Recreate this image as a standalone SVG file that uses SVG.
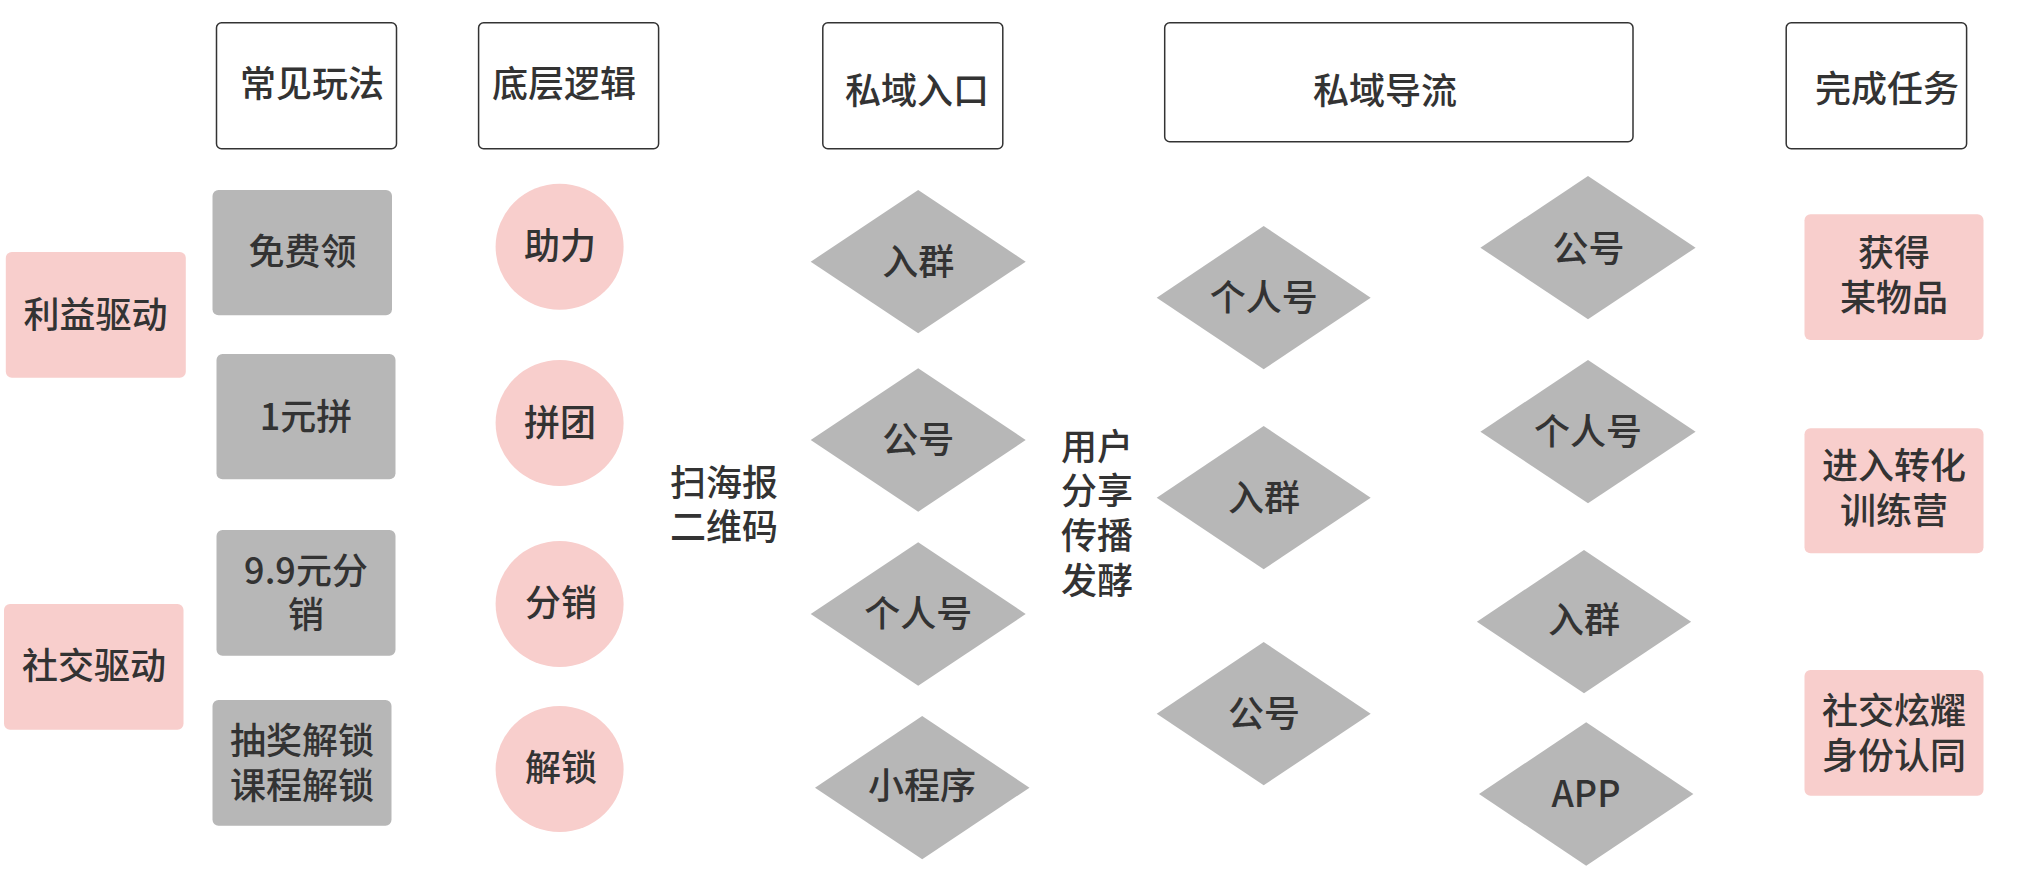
<svg xmlns="http://www.w3.org/2000/svg" width="2034" height="878" viewBox="0 0 2034 878">
<style>
text{font-family:"Noto Sans CJK SC","Noto Sans",sans-serif;font-size:36px;fill:#333333;text-anchor:middle;font-weight:500}
.hdr{fill:#ffffff;stroke:#333333;stroke-width:1.5}
.pink{fill:#f8cecc}
.gray{fill:#b7b7b7}
.free{text-anchor:start}
</style>
<rect width="2034" height="878" fill="#ffffff"/>
<g id="connectors"/>
<!-- headers -->
<g id="h-wanfa"><rect class="hdr" x="216.5" y="22.7" width="180" height="126" rx="5"/><text x="312" y="97">常见玩法</text></g>
<g id="h-luoji"><rect class="hdr" x="478.6" y="22.7" width="180" height="126" rx="5"/><text x="564" y="97">底层逻辑</text></g>
<g id="h-rukou"><rect class="hdr" x="822.8" y="22.7" width="180" height="126" rx="5"/><text x="917" y="104">私域入口</text></g>
<g id="h-daoliu"><rect class="hdr" x="1164.7" y="22.7" width="468.3" height="119" rx="5"/><text x="1385" y="104">私域导流</text></g>
<g id="h-renwu"><rect class="hdr" x="1786.2" y="22.7" width="180.4" height="126" rx="5"/><text x="1887" y="101.5">完成任务</text></g>
<!-- drivers -->
<g id="liyi"><rect class="pink" x="5.8" y="252" width="180" height="125.7" rx="6"/><text x="95.5" y="328">利益驱动</text></g>
<g id="shejiao"><rect class="pink" x="4" y="604" width="179.5" height="125.7" rx="6"/><text x="94" y="679">社交驱动</text></g>
<!-- wanfa -->
<g id="mianfei"><rect class="gray" x="212.5" y="190" width="179.5" height="125.3" rx="6"/><text x="302.5" y="265">免费领</text></g>
<g id="yiyuan"><rect class="gray" x="216.5" y="354" width="179" height="125.3" rx="6"/><text x="306" y="430">1元拼</text></g>
<g id="jiujiu"><rect class="gray" x="216.5" y="530" width="179" height="125.7" rx="6"/><text x="306" y="583.5">9.9元分</text><text x="306" y="628">销</text></g>
<g id="choujiang"><rect class="gray" x="212.5" y="700" width="179" height="125.7" rx="6"/><text x="302" y="753.5">抽奖解锁</text><text x="302" y="799">课程解锁</text></g>
<!-- logic circles -->
<g id="zhuli"><ellipse class="pink" cx="559.6" cy="246.8" rx="64" ry="63"/><text x="560" y="259">助力</text></g>
<g id="pintuan"><ellipse class="pink" cx="559.6" cy="423" rx="64" ry="63"/><text x="560" y="436">拼团</text></g>
<g id="fenxiao"><ellipse class="pink" cx="559.6" cy="604" rx="64" ry="63"/><text x="561" y="615.5">分销</text></g>
<g id="jiesuo"><ellipse class="pink" cx="559.6" cy="769" rx="64" ry="63"/><text x="561" y="781">解锁</text></g>
<!-- free texts -->
<g id="saohaibao"><text class="free" x="670" y="495.5">扫海报</text><text class="free" x="670" y="539.7">二维码</text></g>
<g id="yonghu"><text class="free" x="1061" y="459.7">用户</text><text class="free" x="1061" y="504">分享</text><text class="free" x="1061" y="549">传播</text><text class="free" x="1061" y="594">发酵</text></g>
<!-- entry diamonds -->
<g id="e-ruqun"><polygon class="gray" points="810.7,261.7 918.2,190 1025.7,261.7 918.2,333.3"/><text x="918.3" y="275">入群</text></g>
<g id="e-gonghao"><polygon class="gray" points="810.7,440 918.2,368.3 1025.7,440 918.2,511.7"/><text x="918.3" y="453">公号</text></g>
<g id="e-geren"><polygon class="gray" points="810.7,614 918.2,542.3 1025.7,614 918.2,685.7"/><text x="918.3" y="627">个人号</text></g>
<g id="e-xcx"><polygon class="gray" points="815,787.7 922.2,716 1029.5,787.7 922.2,859.3"/><text x="922" y="799">小程序</text></g>
<!-- flow col 2 -->
<g id="f-geren"><polygon class="gray" points="1156.7,297.7 1263.7,226 1370.7,297.7 1263.7,369.3"/><text x="1263.7" y="311">个人号</text></g>
<g id="f-ruqun"><polygon class="gray" points="1156.7,497.7 1263.7,426 1370.7,497.7 1263.7,569.3"/><text x="1264" y="510.5">入群</text></g>
<g id="f-gonghao"><polygon class="gray" points="1156.7,713.7 1263.7,642 1370.7,713.7 1263.7,785.3"/><text x="1264" y="727">公号</text></g>
<!-- flow col 3 -->
<g id="g-gonghao"><polygon class="gray" points="1480.4,247.7 1588,176 1695.6,247.7 1588,319.3"/><text x="1588.6" y="261.5">公号</text></g>
<g id="g-geren"><polygon class="gray" points="1480.4,431.7 1588,360 1695.6,431.7 1588,503.3"/><text x="1588" y="445">个人号</text></g>
<g id="g-ruqun"><polygon class="gray" points="1476.9,621.7 1584,550 1691.1,621.7 1584,693.3"/><text x="1584" y="632.7">入群</text></g>
<g id="g-app"><polygon class="gray" points="1479,794 1586.2,722.3 1693.4,794 1586.2,865.7"/><text x="1586" y="806.7">APP</text></g>
<!-- tasks -->
<g id="t-huode"><rect class="pink" x="1804.5" y="214.3" width="179" height="125.7" rx="6"/><text x="1894" y="265.5">获得</text><text x="1894" y="310.5">某物品</text></g>
<g id="t-jinru"><rect class="pink" x="1804.5" y="428.3" width="179" height="125" rx="6"/><text x="1894" y="479">进入转化</text><text x="1894" y="524.2">训练营</text></g>
<g id="t-shejiao"><rect class="pink" x="1804.5" y="670" width="179" height="125.7" rx="6"/><text x="1894" y="724">社交炫耀</text><text x="1894" y="769">身份认同</text></g>
</svg>
